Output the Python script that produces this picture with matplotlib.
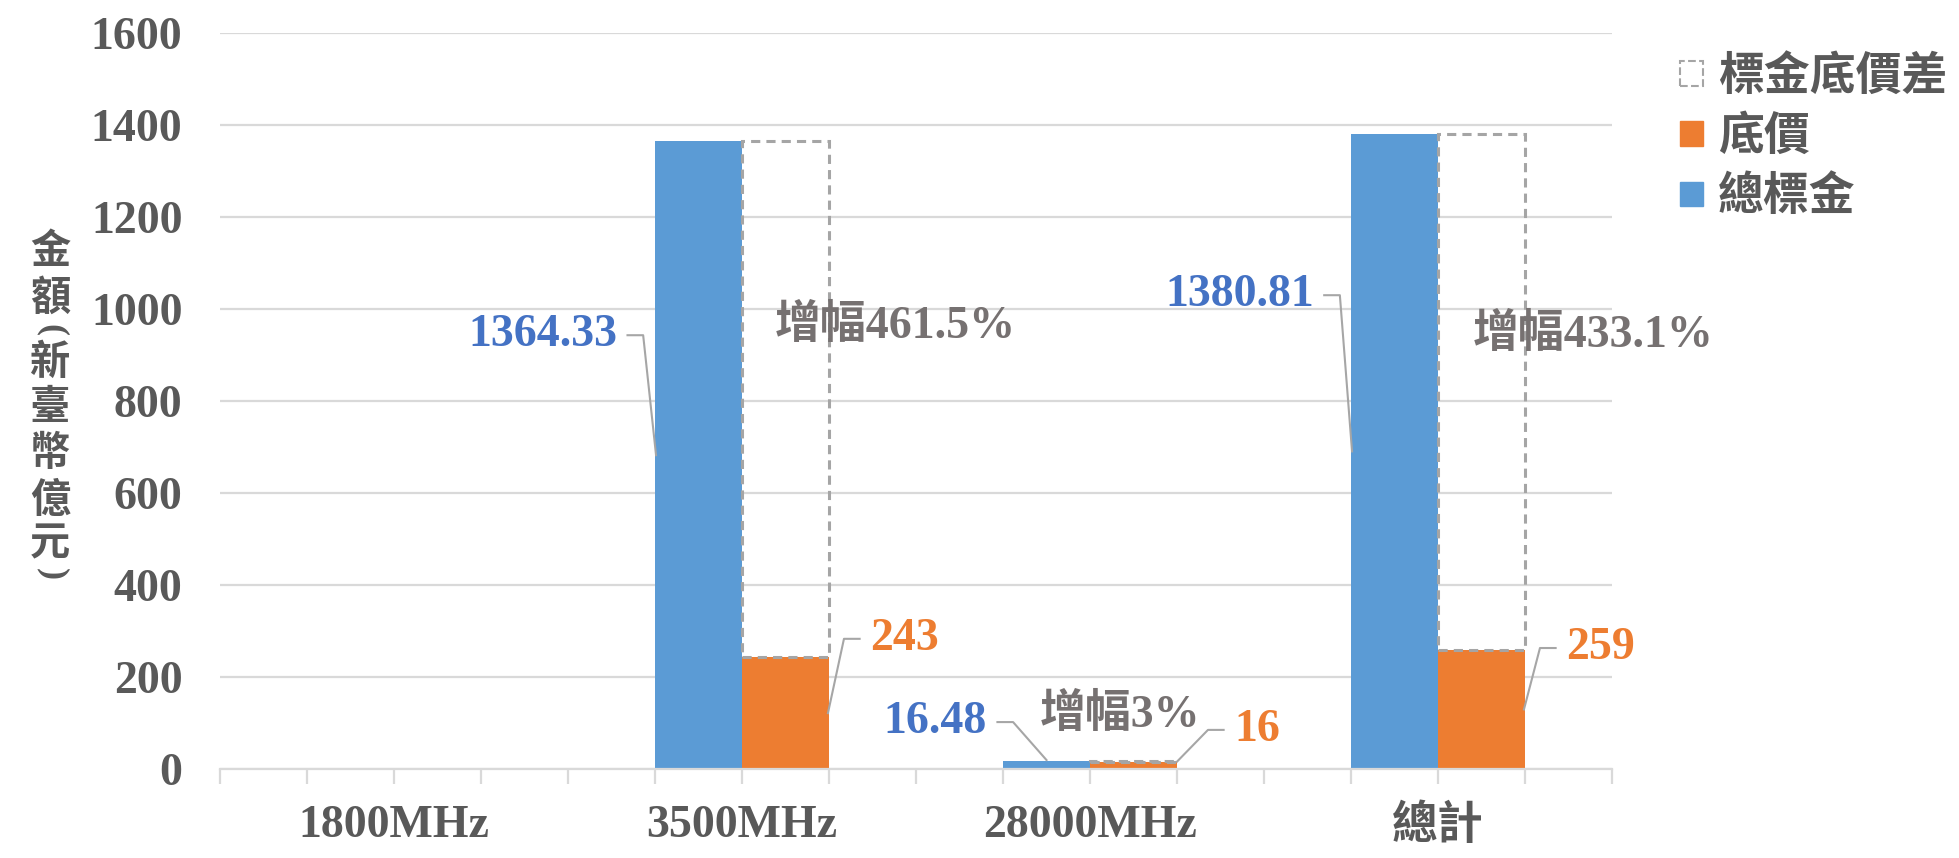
import matplotlib
matplotlib.use('Agg')
import matplotlib.pyplot as plt
from matplotlib.patches import Patch
import numpy as np

### data ###
categories = ['1800MHz', '3500MHz', '28000MHz', '總計']
total_bid = [np.nan, 1364.33, 16.48, 1380.81]   # 總標金
floor_price = [np.nan, 243, 16, 259]           # 底價
gap = [t - f for t, f in zip(total_bid, floor_price)]   # 標金底價差
yticks = [0, 200, 400, 600, 800, 1000, 1200, 1400, 1600]
ylabel_chars = ['金', '額', '(', '新', '臺', '幣', '億', '元', ')']
legend_labels = ['標金底價差', '底價', '總標金']

### colors / fonts ###
c_blue = '#5B9BD5'
c_orange = '#ED7D31'
c_gap = '#A5A5A5'
c_grid = '#D9D9D9'
c_text = '#595959'
c_lbl_blue = '#4472C4'
c_lbl_gray = '#767171'
c_leader = '#A6A6A6'
fam = ['Liberation Serif', 'Noto Sans CJK TC', 'DejaVu Sans']
fs = 33

plt.rcParams['font.family'] = fam
plt.rcParams['font.weight'] = 'bold'

fig = plt.figure(figsize=(19.59, 8.58), dpi=100)
ax = fig.add_axes([220/1959, 1-769/858, (1612-220)/1959, (769-33)/858])

x = np.arange(len(categories))
w = 0.25
ax.bar(x - w/2, total_bid, width=w, color=c_blue, zorder=2)
ax.bar(x + w/2, floor_price, width=w, color=c_orange, zorder=2)
ax.bar(x + w/2, gap, width=w, bottom=floor_price, fill=False, edgecolor=c_gap,
       linewidth=2.2, linestyle=(0, (3, 2)), zorder=3)

ax.set_xlim(-0.5, 3.5)
ax.set_ylim(0, 1600)
ax.set_yticks(yticks)
ax.set_yticklabels([str(v) for v in yticks], fontsize=fs, color=c_text, fontweight='bold')
ax.grid(axis='y', color=c_grid, linewidth=1.6, zorder=0)
ax.set_axisbelow(True)
ax.tick_params(axis='y', length=0, pad=27)

# small ticks every quarter category, labels at category centres
ax.set_xticks(np.arange(-0.5, 3.51, 0.25))
ax.set_xticklabels([])
ax.set_xticks(x, categories, minor=True)
ax.xaxis.remove_overlapping_locs = False
ax.tick_params(axis='x', which='major', length=11, width=1.6, color=c_grid)
ax.tick_params(axis='x', which='minor', length=0, pad=26, labelsize=fs, labelcolor=c_text)
for t in ax.get_xticklabels(minor=True):
    t.set_fontweight('bold')

for s in ['left', 'right', 'top']:
    ax.spines[s].set_visible(False)
ax.spines['bottom'].set_color(c_grid)
ax.spines['bottom'].set_linewidth(1.6)

### value labels with elbow leaders ###
def leader(anchor, elbow, direction, txt, color):
    end = (elbow[0] + direction*0.045, elbow[1])
    ax.plot([anchor[0], elbow[0], end[0]], [anchor[1], elbow[1], end[1]],
            color=c_leader, linewidth=1.5, zorder=4, clip_on=False)
    ax.text(end[0] + direction*0.03, elbow[1], txt, color=color, fontsize=fs,
            fontweight='bold', ha='right' if direction < 0 else 'left', va='center')

# (anchor_mode, elbow x, elbow y) per category
blue_layout = [None, ('side', 0.716, 943), ('top', 1.779, 102), ('side', 2.718, 1030)]
orange_layout = [None, ('side', 1.293, 283), ('top', 2.339, 85), ('side', 3.293, 263)]
rise_layout = [None, (1.095, 961), (1.856, 117), (3.10, 943)]

for i in range(len(categories)):
    if np.isnan(total_bid[i]):
        continue
    mode, ex, ey = blue_layout[i]
    if mode == 'side':
        anc = (x[i] - w + 0.003, total_bid[i]/2)
    else:
        anc = (x[i] - w/2, total_bid[i] + 3)
    leader(anc, (ex, ey), -1, f'{total_bid[i]:g}', c_lbl_blue)

    mode, ex, ey = orange_layout[i]
    if mode == 'side':
        anc = (x[i] + w - 0.003, floor_price[i]/2)
    else:
        anc = (x[i] + w, floor_price[i])
    leader(anc, (ex, ey), 1, f'{floor_price[i]:g}', c_orange)

    pct = round(gap[i] / floor_price[i] * 100, 1)
    rx, ry = rise_layout[i]
    ax.text(rx, ry, f'增幅{pct:g}%', color=c_lbl_gray, fontsize=fs, fontweight='bold',
            ha='left', va='center')

### y label, stacked vertically (brackets turned for vertical writing) ###
ypos = [252, 298, 330, 362, 408, 454, 500, 544, 574]
for ch, yp in zip(ylabel_chars, ypos):
    if ch in '()':
        fig.text(52/1959, 1 - yp/858, ch, fontsize=26, color=c_text, rotation=-90,
                 ha='center', va='center', family=['Liberation Serif'])
    else:
        fig.text(50/1959, 1 - yp/858, ch, fontsize=29, color=c_text, fontweight='bold',
                 ha='center', va='center', family=['Noto Sans CJK TC', 'DejaVu Sans'])

### legend ###
handles = [Patch(facecolor='none', edgecolor=c_gap, linestyle='--', linewidth=1.5),
           Patch(facecolor=c_orange, edgecolor=c_orange),
           Patch(facecolor=c_blue, edgecolor=c_blue)]
leg = fig.legend(handles, legend_labels, loc='upper left', bbox_to_anchor=(1680/1959, 1 - 56/858),
                 frameon=False, fontsize=fs, handlelength=0.5, handleheight=0.45,
                 handletextpad=0.32, labelspacing=0.36, borderpad=0, borderaxespad=0)
for t in leg.get_texts():
    t.set_color(c_text)

fig.savefig('out.png', dpi=100)
